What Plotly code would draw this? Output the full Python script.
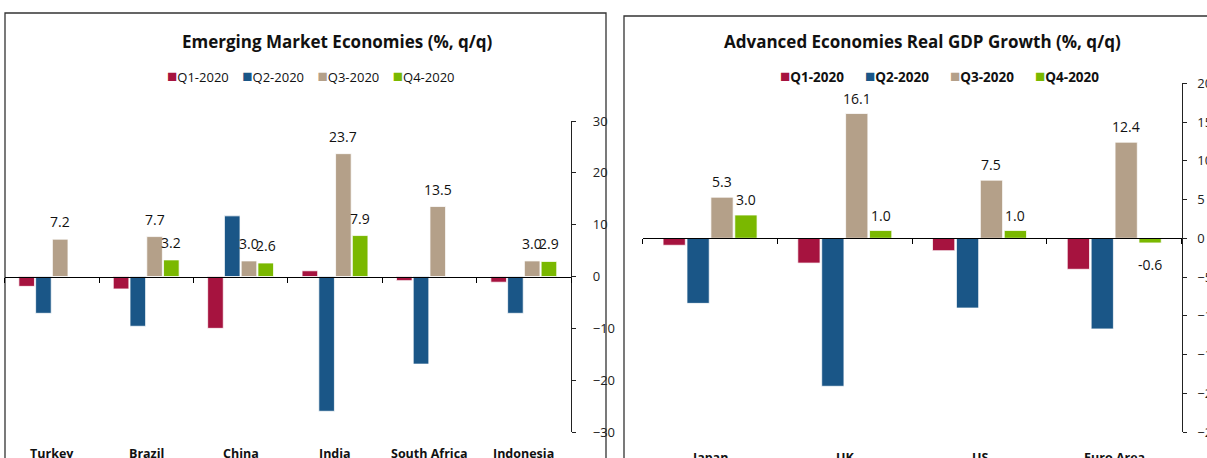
import plotly.graph_objects as go

# ---------------- data ----------------
em_countries = ["Turkey", "Brazil", "China", "India", "South Africa", "Indonesia"]
em_q1 = [-1.9, -2.4, -10.0, 1.1, -0.8, -1.1]
em_q2 = [-7.1, -9.6, 11.7, -26.0, -16.9, -7.1]
em_q3 = [7.2, 7.7, 3.0, 23.7, 13.5, 3.0]
em_q4 = [None, 3.2, 2.6, 7.9, None, 2.9]

ae_countries = ["Japan", "UK", "US", "Euro Area"]
ae_q1 = [-0.9, -3.2, -1.6, -4.0]
ae_q2 = [-8.4, -19.1, -9.0, -11.7]
ae_q3 = [5.3, 16.1, 7.5, 12.4]
ae_q4 = [3.0, 1.0, 1.0, -0.6]

series_names = ["Q1-2020", "Q2-2020", "Q3-2020", "Q4-2020"]
series_colors = ["#A6133F", "#1A5687", "#B4A089", "#7AB800"]
labelled = [False, False, True, True]

em_title = "Emerging Market Economies (%, q/q)"
ae_title = "Advanced Economies Real GDP Growth (%, q/q)"

# ---------------- layout helpers ----------------
W, H = 1207, 458
FONT = "Open Sans"
BARGAP = 0.29


def fx(p):
    return p / W


def fy(p):
    return 1 - p / H


fig = go.Figure()

panels = [
    dict(cats=em_countries, series=[em_q1, em_q2, em_q3, em_q4], xa="x", ya="y", lift=6),
    dict(cats=ae_countries, series=[ae_q1, ae_q2, ae_q3, ae_q4], xa="x2", ya="y2", lift=4),
]

for p in panels:
    for name, color, vals in zip(series_names, series_colors, p["series"]):
        fig.add_trace(go.Bar(
            x=p["cats"], y=vals, name=name,
            xaxis=p["xa"], yaxis=p["ya"],
            marker=dict(color=color, line=dict(color="rgba(255,255,255,0.75)", width=1)),
            showlegend=False,
        ))

# axis geometry (pixels)
L_x0, L_x1 = 4.6, 571
L_y0, L_y1 = 432, 121
L_range = [-30, 30]
R_x0, R_x1 = 642.7, 1181.6
R_y0, R_y1 = 432, 83.3
R_range = [-25, 20]


def zero_pos(ypx0, ypx1, rng):
    d0, d1 = fy(ypx0), fy(ypx1)
    return d0 + (0 - rng[0]) / (rng[1] - rng[0]) * (d1 - d0)


xcommon = dict(showline=True, linecolor="black", linewidth=1.3, ticks="outside",
               tickson="boundaries", ticklen=5, tickcolor="black", tickwidth=1.3,
               showticklabels=False, showgrid=False, zeroline=False,
               anchor="free", fixedrange=True, automargin=False)
ycommon = dict(side="right", showline=True, linecolor="#222222", linewidth=1.3,
               ticks="outside", ticklen=4, tickcolor="#222222", tickwidth=1.3,
               showgrid=False, zeroline=False, automargin=False,
               tickfont=dict(family=FONT, size=13, color="#222222"))

fig.update_layout(
    width=W, height=H,
    margin=dict(l=0, r=0, t=0, b=0, pad=0, autoexpand=False),
    paper_bgcolor="white", plot_bgcolor="white",
    barmode="group", bargap=BARGAP, bargroupgap=0.07,
    font=dict(family=FONT, color="#111111"),
    xaxis=dict(domain=[fx(L_x0), fx(L_x1)], position=zero_pos(L_y0, L_y1, L_range), **xcommon),
    yaxis=dict(domain=[fy(L_y0), fy(L_y1)], range=L_range, dtick=10, anchor="x",
               ticklabelstandoff=14, **ycommon),
    xaxis2=dict(domain=[fx(R_x0), fx(R_x1)], position=zero_pos(R_y0, R_y1, R_range), **xcommon),
    yaxis2=dict(domain=[fy(R_y0), fy(R_y1)], range=R_range, dtick=5, anchor="x2",
                ticklabelstandoff=8, **ycommon),
    showlegend=False,
)

annotations = []


def ann(text, x, y, size, xref="paper", yref="paper", yanchor="middle", yshift=0):
    return dict(text=text, x=x, y=y, xref=xref, yref=yref, showarrow=False,
                xanchor="center", yanchor=yanchor, yshift=yshift,
                font=dict(family=FONT, size=size, color="#111111"))


# data labels (Q3 and Q4), placed over each bar through the category axis
nser = len(series_names)
slot = (1 - BARGAP) / nser
for p in panels:
    for k, (vals, lab) in enumerate(zip(p["series"], labelled)):
        if not lab:
            continue
        off = (k - (nser - 1) / 2) * slot
        for j, v in enumerate(vals):
            if v is None:
                continue
            if v >= 0:
                annotations.append(ann(f"{v:.1f}", j + off, v, 14, xref=p["xa"], yref=p["ya"],
                                       yanchor="bottom", yshift=p["lift"]))
            else:
                annotations.append(ann(f"{v:.1f}", j + off, v, 14, xref=p["xa"], yref=p["ya"],
                                       yanchor="top", yshift=-10))

# titles
annotations.append(ann(f"<b>{em_title}</b>", fx(337), fy(41), 17))
annotations.append(ann(f"<b>{ae_title}</b>", fx(923), fy(41), 17))

# legends built from series names/colours


def legend_text(bold, gap):
    parts = []
    for n, c in zip(series_names, series_colors):
        t = f"<b>{n}</b>" if bold else n
        parts.append(f"<span style='color:{c};font-size:17px'>\u25A0</span>{t}")
    return ("\u00a0" * gap).join(parts)


annotations.append(ann(legend_text(False, 4), fx(311), fy(75), 13))
annotations.append(ann(legend_text(True, 6), fx(939), fy(75), 13.5))

# category labels
for c in em_countries:
    annotations.append(ann(f"<b>{c}</b>", c, fy(453), 12.5, xref="x"))
for c in ae_countries:
    annotations.append(ann(f"<b>{c}</b>", c, fy(457), 12.5, xref="x2"))

fig.update_layout(annotations=annotations)

# panel frames
fig.update_layout(shapes=[
    dict(type="rect", xref="paper", yref="paper", x0=fx(5), x1=fx(606), y0=fy(490), y1=fy(13),
         line=dict(color="#333333", width=1.3), fillcolor="rgba(0,0,0,0)", layer="below"),
    dict(type="rect", xref="paper", yref="paper", x0=fx(624), x1=fx(1240), y0=fy(490), y1=fy(16),
         line=dict(color="#333333", width=1.3), fillcolor="rgba(0,0,0,0)", layer="below"),
])

fig.write_html("out.html")
